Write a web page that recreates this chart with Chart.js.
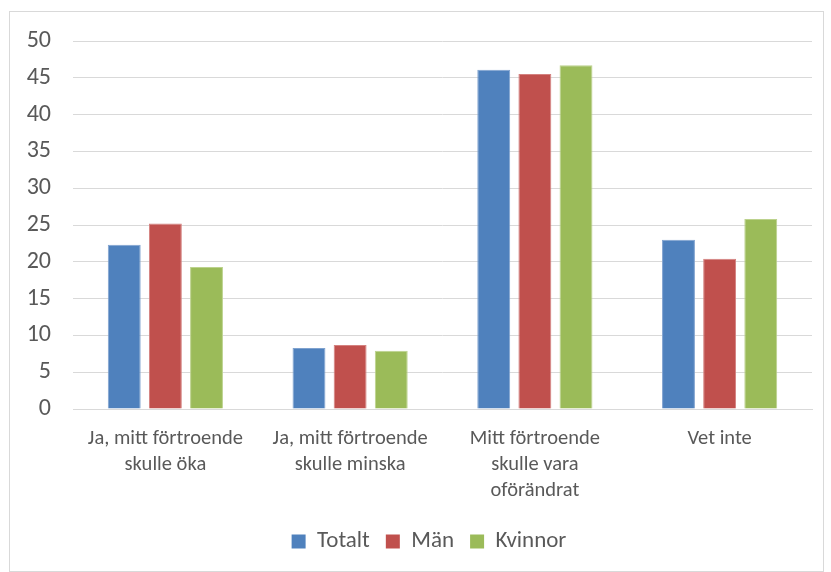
<!DOCTYPE html>
<html>
<head>
<meta charset="utf-8">
<script src="https://cdn.jsdelivr.net/npm/chart.js@4"></script>
<style>
  html, body { margin: 0; padding: 0; background: #fff; }
  #frame {
    position: absolute; left: 9px; top: 11px;
    width: 813px; height: 559px;
    border: 1px solid #d9d9d9; background: #fff;
  }
  #chart { display: block; }
</style>
</head>
<body>
<div id="frame"><canvas id="chart" width="813" height="559"></canvas></div>
<script>
// Categories (wrapped as in the original)
const categories = [
    ['Ja, mitt förtroende', 'skulle öka'],
    ['Ja, mitt förtroende', 'skulle minska'],
    ['Mitt förtroende', 'skulle vara', 'oförändrat'],
    ['Vet inte']
];

// Series values (percent)
const totalt  = [22.3, 8.3, 46.1, 23.0];
const man     = [25.2, 8.7, 45.5, 20.4];
const kvinnor = [19.3, 7.9, 46.7, 25.8];

const seriesNames = ['Totalt', 'Män', 'Kvinnor'];
const yTicks = [0, 5, 10, 15, 20, 25, 30, 35, 40, 45, 50];

const FONT = 'Carlito, Calibri, "Liberation Sans Narrow", "Noto Sans", sans-serif';
const TEXT = '#595959';

Chart.defaults.font.family = FONT;
Chart.defaults.color = TEXT;

// Legend sits a bit right of the canvas centre in the original
const shiftLegend = {
    id: 'shiftLegend',
    afterUpdate(chart) {
        const lg = chart.legend;
        lg.left += 18;
        lg.right += 18;
        lg.adjustHitBoxes();
    }
};

const ctx = document.getElementById('chart').getContext('2d');
new Chart(ctx, {
    type: 'bar',
    data: {
        labels: categories,
        datasets: [
            { label: seriesNames[0], data: totalt,  backgroundColor: '#4F81BD', borderColor: '#7fa2cf', borderWidth: 1 },
            { label: seriesNames[1], data: man,     backgroundColor: '#C0504D', borderColor: '#d4817f', borderWidth: 1 },
            { label: seriesNames[2], data: kvinnor, backgroundColor: '#9BBB59', borderColor: '#bcd28d', borderWidth: 1 }
        ]
    },
    options: {
        responsive: false,
        animation: false,
        datasets: { bar: { categoryPercentage: 0.668, barPercentage: 0.8 } },
        layout: { padding: { top: 29, right: 11, bottom: 8, left: 0 } },
        scales: {
            x: {
                grid: { display: false, drawTicks: false },
                border: { color: '#d9d9d9', width: 1 },
                ticks: { font: { size: 20.5, lineHeight: 1.27 }, color: TEXT, padding: 17, maxRotation: 0, autoSkip: false },
                afterFit: s => { s.height = 105; }
            },
            y: {
                min: 0, max: 50,
                afterBuildTicks: s => { s.ticks = yTicks.map(v => ({ value: v })); },
                grid: { color: '#d9d9d9', lineWidth: 1, drawTicks: true, tickLength: 18, tickColor: 'rgba(0,0,0,0)' },
                border: { display: false },
                ticks: { font: { size: 24 }, color: TEXT, padding: 4 },
                afterFit: s => { s.width = 63; }
            }
        },
        plugins: {
            legend: {
                position: 'bottom',
                labels: { font: { size: 23 }, color: TEXT, boxWidth: 14, boxHeight: 14, padding: 16,
                          generateLabels: chart => Chart.defaults.plugins.legend.labels.generateLabels(chart)
                              .map(l => Object.assign(l, { strokeStyle: l.fillStyle, lineWidth: 0 })) }
            },
            tooltip: { enabled: false }
        }
    },
    plugins: [shiftLegend]
});
</script>
</body>
</html>
